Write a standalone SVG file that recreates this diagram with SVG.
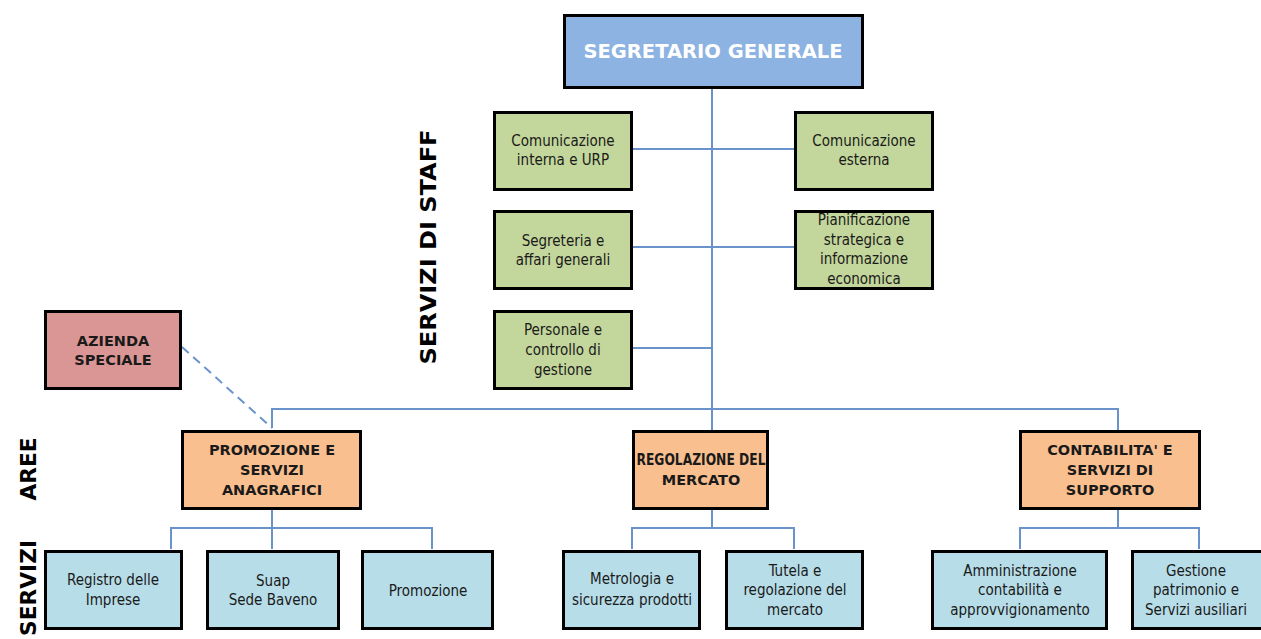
<svg xmlns="http://www.w3.org/2000/svg" width="1261" height="639" viewBox="0 0 1261 639">
<style>
.box{stroke:#000;stroke-width:3}
.top{fill:#8DB3E2}
.staff{fill:#C3D69B}
.area{fill:#FABF8F}
.serv{fill:#B7DDE8}
.az{fill:#DA9694}
text{font-family:"DejaVu Sans","Liberation Sans",sans-serif;text-anchor:middle;fill:#1a1a1a}
.t{font-family:"DejaVu Sans Condensed","DejaVu Sans",sans-serif;font-size:15px}
.b{font-size:14.5px;font-weight:bold}
.bc{font-family:"DejaVu Sans Condensed","DejaVu Sans",sans-serif;font-size:15px;font-weight:bold}
.lab{font-size:21px;font-weight:bold;fill:#000}
.conn{stroke:#6A93CC;stroke-width:2;fill:none}
</style>
<rect width="1261" height="639" fill="#fff"/>
<g id="connectors">
<path class="conn" d="M712 89V430M633 149H794M633 247H794M633 348H712M272 428V409H1118V430M272 510V549M171 549V528H432V549M712 510V528M632 549V528H794V549M1118 510V528M1020 549V528H1199V549"/>
<path class="conn" d="M182 347L272 428" stroke-dasharray="9,6"/>
</g>
<g id="segretario"><rect class="box top" x="564.5" y="15.5" width="298" height="72"/><text x="713" y="58" style="font-size:19.5px;font-weight:bold;fill:#fff">SEGRETARIO GENERALE</text></g>
<g id="com-interna"><rect class="box staff" x="494.5" y="112.5" width="137" height="77"/><text class="t" x="563" y="146">Comunicazione</text><text class="t" x="563" y="165">interna e URP</text></g>
<g id="com-esterna"><rect class="box staff" x="795.5" y="112.5" width="137" height="77"/><text class="t" x="864" y="146">Comunicazione</text><text class="t" x="864" y="165">esterna</text></g>
<g id="segreteria"><rect class="box staff" x="494.5" y="211.5" width="137" height="77"/><text class="t" x="563" y="246">Segreteria e</text><text class="t" x="563" y="265">affari generali</text></g>
<g id="pianificazione"><rect class="box staff" x="795.5" y="211.5" width="137" height="77"/><text class="t" x="864" y="225">Pianificazione</text><text class="t" x="864" y="245">strategica e</text><text class="t" x="864" y="264">informazione</text><text class="t" x="864" y="284">economica</text></g>
<g id="personale"><rect class="box staff" x="494.5" y="311.5" width="137" height="77"/><text class="t" x="563" y="335">Personale e</text><text class="t" x="563" y="355">controllo di</text><text class="t" x="563" y="375">gestione</text></g>
<g id="azienda"><rect class="box az" x="45.5" y="311.5" width="135" height="77"/><text class="b" x="113" y="346">AZIENDA</text><text class="b" x="113" y="365">SPECIALE</text></g>
<g id="area-promozione"><rect class="box area" x="182.5" y="431.5" width="178" height="77"/><text class="b" x="272" y="455">PROMOZIONE E</text><text class="b" x="272" y="475">SERVIZI</text><text class="b" x="272" y="495">ANAGRAFICI</text></g>
<g id="area-regolazione"><rect class="box area" x="633.5" y="431.5" width="134" height="77"/><text class="bc" x="701" y="465" textLength="129" lengthAdjust="spacingAndGlyphs">REGOLAZIONE DEL</text><text class="b" x="701" y="485">MERCATO</text></g>
<g id="area-contabilita"><rect class="box area" x="1020.5" y="431.5" width="179" height="77"/><text class="b" x="1110" y="455">CONTABILITA' E</text><text class="b" x="1110" y="475">SERVIZI DI</text><text class="b" x="1110" y="495">SUPPORTO</text></g>
<g id="registro"><rect class="box serv" x="45.5" y="551.5" width="136" height="77"/><text class="t" x="113" y="585">Registro delle</text><text class="t" x="113" y="605">Imprese</text></g>
<g id="suap"><rect class="box serv" x="207.5" y="551.5" width="131" height="77"/><text class="t" x="273" y="586">Suap</text><text class="t" x="273" y="605">Sede Baveno</text></g>
<g id="promozione"><rect class="box serv" x="362.5" y="551.5" width="130" height="77"/><text class="t" x="428" y="596">Promozione</text></g>
<g id="metrologia"><rect class="box serv" x="563.5" y="551.5" width="136" height="77"/><text class="t" x="632" y="584">Metrologia e</text><text class="t" x="632" y="605">sicurezza prodotti</text></g>
<g id="tutela"><rect class="box serv" x="726.5" y="551.5" width="136" height="77"/><text class="t" x="795" y="576">Tutela e</text><text class="t" x="795" y="595">regolazione del</text><text class="t" x="795" y="615">mercato</text></g>
<g id="amministrazione"><rect class="box serv" x="932.5" y="551.5" width="174" height="77"/><text class="t" x="1020" y="576">Amministrazione</text><text class="t" x="1020" y="595">contabilità e</text><text class="t" x="1020" y="615">approvvigionamento</text></g>
<g id="gestione"><rect class="box serv" x="1132.5" y="551.5" width="132" height="77"/><text class="t" x="1196" y="576">Gestione</text><text class="t" x="1196" y="595">patrimonio e</text><text class="t" x="1196" y="615">Servizi ausiliari</text></g>
<g id="labels">
<text class="lab" transform="translate(436,247) rotate(-90)" textLength="235" lengthAdjust="spacingAndGlyphs">SERVIZI DI STAFF</text>
<text class="lab" transform="translate(36,469) rotate(-90)" textLength="63" lengthAdjust="spacingAndGlyphs">AREE</text>
<text class="lab" transform="translate(36,588) rotate(-90)" textLength="96" lengthAdjust="spacingAndGlyphs">SERVIZI</text>
</g>
</svg>
